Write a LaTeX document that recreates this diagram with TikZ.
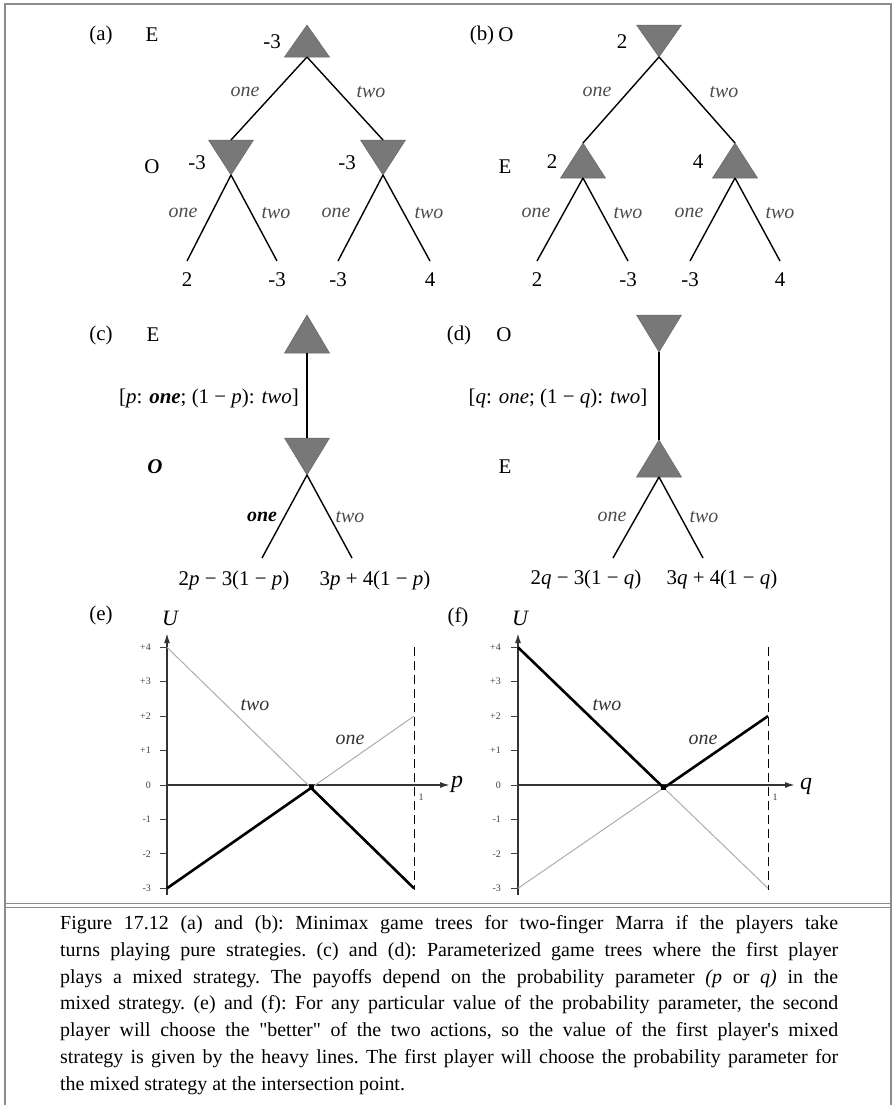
\documentclass[tikz,border=0pt]{standalone}
\usepackage{fontspec}
\setmainfont{Liberation Serif}[Ligatures=TeXOff]
\usetikzlibrary{arrows.meta}
\definecolor{dreieckgrau}{rgb}{0.47,0.47,0.47}
\definecolor{rahmengrau}{rgb}{0.55,0.55,0.55}
\definecolor{astgrau}{rgb}{0.30,0.30,0.30}
\definecolor{duenngrau}{rgb}{0.68,0.68,0.68}

\newcommand{\schrift}[1]{\fontsize{#1}{#1}\selectfont}

% MAX-Knoten: Dreieck mit Spitze oben (Name, x, y der Spitze, Hoehe)
\newcommand{\maxknoten}[4]{%
  \filldraw[fill=dreieckgrau,draw=dreieckgrau!85!black,line width=0.5bp]
    (#2-22.5,#3+#4) -- (#2,#3) -- (#2+22.5,#3+#4) -- cycle;
  \coordinate (#1-oben) at (#2,#3);
  \coordinate (#1-unten) at (#2,#3+#4);}
% MIN-Knoten: Dreieck mit Spitze unten (Name, x, y der Oberkante, Hoehe)
\newcommand{\minknoten}[4]{%
  \filldraw[fill=dreieckgrau,draw=dreieckgrau!85!black,line width=0.5bp]
    (#2-22.5,#3) -- (#2+22.5,#3) -- (#2,#3+#4) -- cycle;
  \coordinate (#1-oben) at (#2,#3);
  \coordinate (#1-unten) at (#2,#3+#4);}

\begin{document}
\begin{tikzpicture}[yscale=-1,x=1bp,y=1bp,
  ast/.style={line width=1.4bp},
  lbl/.style={font=\schrift{20}\itshape,text=astgrau,inner sep=1bp},
  wert/.style={font=\schrift{21},inner sep=1bp},
  blatt/.style={font=\schrift{21},inner xsep=1bp,inner ysep=12bp,text height=13.5bp,text depth=0bp,anchor=north},
  achse/.style={line width=1.6bp,draw=black!80,-{Latex[length=10bp,width=6bp]}},
  skala/.style={font=\schrift{10},text=black!75,inner sep=1bp,anchor=east},
  dick/.style={line width=2.6bp,line join=round},
  duenn/.style={line width=1bp,duenngrau}]

  \useasboundingbox (0,0) rectangle (895,1105);

  % --- Rahmen und Trennlinie zur Bildunterschrift ---
  \draw[rahmengrau,line width=2bp] (5,1105) -- (5,4) -- (891,4) -- (891,1105);
  \draw[rahmengrau,line width=1bp] (5,903) -- (891,903);
  \draw[rahmengrau,line width=1bp] (5,907.5) -- (891,907.5);

  % ======================================================================
  % (a) E zieht zuerst
  % ======================================================================
  \node[wert] (la) at (101,35) {(a)};
  \node[wert] (ea) at (152,35) {E};
  \node[wert] (oa) at (152,167) {O};

  \maxknoten{a0}{307}{25}{32}
  \minknoten{a1}{231}{140}{35}
  \minknoten{a2}{383}{140}{35}

  \node[wert] (va0) at (272,42) {-3};
  \node[wert] (va1) at (197,163) {-3};
  \node[wert] (va2) at (347,163) {-3};

  \node[blatt] (a11) at (187,261) {2};
  \node[blatt] (a12) at (277,261) {-3};
  \node[blatt] (a21) at (338,261) {-3};
  \node[blatt] (a22) at (430,261) {4};

  \draw[ast] (a0-unten) -- (a1-oben);
  \draw[ast] (a0-unten) -- (a2-oben);
  \draw[ast] (a1-unten) -- (a11.north);
  \draw[ast] (a1-unten) -- (a12.north);
  \draw[ast] (a2-unten) -- (a21.north);
  \draw[ast] (a2-unten) -- (a22.north);

  \node[lbl] (ta1) at (245,92) {one};
  \node[lbl] (ta2) at (371,92) {two};
  \node[lbl] (ta11) at (183,213) {one};
  \node[lbl] (ta12) at (276,213) {two};
  \node[lbl] (ta21) at (336,213) {one};
  \node[lbl] (ta22) at (429,213) {two};

  % ======================================================================
  % (b) O zieht zuerst
  % ======================================================================
  \node[wert] (lb) at (482,35) {(b)};
  \node[wert] (ob) at (506,35) {O};
  \node[wert] (eb) at (505,167) {E};

  \minknoten{b0}{659}{25}{32}
  \maxknoten{b1}{583}{143}{35}
  \maxknoten{b2}{735}{143}{35}

  \node[wert] (vb0) at (622,42) {2};
  \node[wert] (vb1) at (552,162) {2};
  \node[wert] (vb2) at (698,162) {4};

  \node[blatt] (b11) at (537,261) {2};
  \node[blatt] (b12) at (628,261) {-3};
  \node[blatt] (b21) at (690,261) {-3};
  \node[blatt] (b22) at (780,261) {4};

  \draw[ast] (b0-unten) -- (b1-oben);
  \draw[ast] (b0-unten) -- (b2-oben);
  \draw[ast] (b1-unten) -- (b11.north);
  \draw[ast] (b1-unten) -- (b12.north);
  \draw[ast] (b2-unten) -- (b21.north);
  \draw[ast] (b2-unten) -- (b22.north);

  \node[lbl] (tb1) at (597,92) {one};
  \node[lbl] (tb2) at (724,92) {two};
  \node[lbl] (tb11) at (536,213) {one};
  \node[lbl] (tb12) at (628,213) {two};
  \node[lbl] (tb21) at (689,213) {one};
  \node[lbl] (tb22) at (780,213) {two};

  % ======================================================================
  % (c) E spielt gemischt mit Parameter p
  % ======================================================================
  \node[wert] (lc) at (101,335) {(c)};
  \node[wert] (ec) at (153,335) {E};
  \node[wert] (oc) at (155,467) {\textbf{\textit{O}}};

  \maxknoten{c0}{307}{315}{38}
  \minknoten{c1}{307}{438}{37}
  \coordinate (c11) at (262,558);
  \coordinate (c12) at (352,558);

  \draw[ast] (c0-unten) -- (c1-oben);
  \draw[ast] (c1-unten) -- (c11);
  \draw[ast] (c1-unten) -- (c12);

  \node[wert] (mc) at (209,398) {[\textit{p}: \textbf{\textit{one}}; (1 − \textit{p}): \textit{two}]};
  \node[lbl,text=black] (tc1) at (262,517) {\textbf{one}};
  \node[lbl] (tc2) at (350,517) {two};
  \node[wert] (pc1) at (234,580) {2\textit{p} − 3(1 − \textit{p})};
  \node[wert] (pc2) at (375,580) {3\textit{p} + 4(1 − \textit{p})};

  % ======================================================================
  % (d) O spielt gemischt mit Parameter q
  % ======================================================================
  \node[wert] (ld) at (459,335) {(d)};
  \node[wert] (od) at (504,335) {O};
  \node[wert] (ed) at (505,467) {E};

  \minknoten{d0}{659}{315}{37}
  \maxknoten{d1}{659}{440}{37}
  \coordinate (d11) at (613,558);
  \coordinate (d12) at (703,558);

  \draw[ast] (d0-unten) -- (d1-oben);
  \draw[ast] (d1-unten) -- (d11);
  \draw[ast] (d1-unten) -- (d12);

  \node[wert] (md) at (558,398) {[\textit{q}: \textit{one}; (1 − \textit{q}): \textit{two}]};
  \node[lbl] (td1) at (612,517) {one};
  \node[lbl] (td2) at (704,517) {two};
  \node[wert] (qd1) at (586,579) {2\textit{q} − 3(1 − \textit{q})};
  \node[wert] (qd2) at (722,579) {3\textit{q} + 4(1 − \textit{q})};

  % ======================================================================
  % (e) Nutzen U ueber p (x: 1 = 247bp, y: 1 = 34.43bp)
  % ======================================================================
  \node[wert] (le) at (101,615) {(e)};
  \node[wert,font=\schrift{22}\itshape] (ue) at (170,618) {U};

  \draw[line width=0.9bp,dash pattern=on 9bp off 5bp] (414,647) -- (414,890);
  \draw[achse] (167,895) -- (167,633);
  \draw[achse] (167,785) -- (450,785);
  \node[wert,font=\schrift{24}\itshape] (pe) at (457,784) {p};
  \node[skala,anchor=center] (eins-e) at (421,797) {1};
  \foreach \u/\t in {4/+4,3/+3,2/+2,1/+1,0/0,-1/-1,-2/-2,-3/-3} {
    \draw[line width=0.8bp,black!75] (160,{785-34.43*\u}) -- (167,{785-34.43*\u});
    \node[skala] at (152,{785-34.43*\u}) {\t};
  }

  \draw[duenn] (167,647.3) -- (311.1,787.9) -- (414,716.1);
  \draw[dick] (167,888.3) -- (311.1,787.9) -- (414,888.3);
  \fill (308.6,785.4) rectangle (313.6,790.4);

  \node[lbl,text=black!80] (twoe) at (255,705) {two};
  \node[lbl,text=black!80] (onee) at (350,740) {one};

  % ======================================================================
  % (f) Nutzen U ueber q (x: 1 = 250bp)
  % ======================================================================
  \node[wert] (lf) at (458,617) {(f)};
  \node[wert,font=\schrift{22}\itshape] (uf) at (520,618) {U};

  \draw[line width=0.9bp,dash pattern=on 9bp off 5bp] (768,647) -- (768,890);
  \draw[achse] (518,895) -- (518,633);
  \draw[achse] (518,785) -- (795,785);
  \node[wert,font=\schrift{24}\itshape] (qf) at (806,786) {q};
  \node[skala,anchor=center] (eins-f) at (775,797) {1};
  \foreach \u/\t in {4/+4,3/+3,2/+2,1/+1,0/0,-1/-1,-2/-2,-3/-3} {
    \draw[line width=0.8bp,black!75] (511,{785-34.43*\u}) -- (518,{785-34.43*\u});
    \node[skala] at (502,{785-34.43*\u}) {\t};
  }

  \draw[duenn] (518,888.3) -- (663.8,787.9) -- (768,888.3);
  \draw[dick] (518,647.3) -- (663.8,787.9) -- (768,716.1);
  \fill (661.3,785.4) rectangle (666.3,790.4);

  \node[lbl,text=black!80] (twof) at (607,705) {two};
  \node[lbl,text=black!80] (onef) at (703,740) {one};

  % --- Bildunterschrift ---
  \node[anchor=north west,inner sep=0pt,text width=778bp,align=justify,
        font=\fontsize{20}{27}\selectfont\frenchspacing] (unterschrift) at (60,915)
    {Figure 17.12 (a) and (b): Minimax game trees for two-finger Marra if the players take\linebreak
     turns playing pure strategies. (c) and (d): Parameterized game trees where the first player\linebreak
     plays a mixed strategy. The payoffs depend on the probability parameter \textit{(p} or \textit{q)} in the\linebreak
     mixed strategy. (e) and (f): For any particular value of the probability parameter, the second\linebreak
     player will choose the "better" of the two actions, so the value of the first player's mixed\linebreak
     strategy is given by the heavy lines. The first player will choose the probability parameter for\linebreak
     the mixed strategy at the intersection point.};

\end{tikzpicture}
\end{document}
